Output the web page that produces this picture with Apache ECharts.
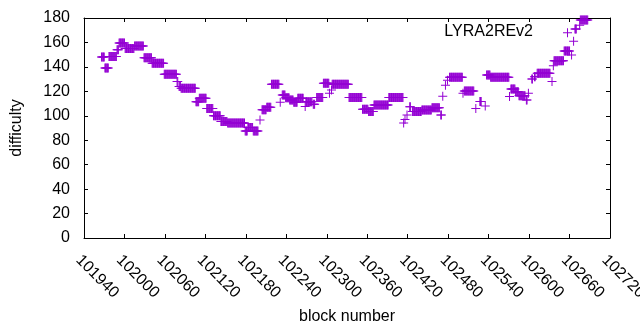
<!DOCTYPE html>
<html>
<head>
<meta charset="utf-8">
<script src="https://cdn.jsdelivr.net/npm/echarts@6/dist/echarts.min.js"></script>
<style>
    html, body { margin: 0; padding: 0; background: #fff; }
    #chart { width: 640px; height: 330px; }
</style>
</head>
<body>
<div id="chart"></div>
<script>
    // difficulty stays the same over runs of blocks: first block, last block, value
    var runStart = [101966, 101971, 101977, 101989, 101992, 102001, 102015, 102029, 102041, 102059,
        102078, 102081, 102084, 102106, 102111, 102122, 102132, 102143, 102153, 102179,
        102183, 102191, 102201, 102204, 102211, 102218, 102231, 102234, 102239, 102245,
        102251, 102257, 102268, 102269, 102280, 102285, 102295, 102304, 102307, 102308,
        102333, 102353, 102362, 102370, 102392, 102414, 102416, 102419, 102423, 102427,
        102441, 102456, 102469, 102472, 102476, 102479, 102482, 102502, 102504, 102521,
        102527, 102535, 102537, 102543, 102571, 102573, 102580, 102585, 102596, 102599,
        102604, 102608, 102612, 102634, 102636, 102637, 102652, 102657, 102663, 102666,
        102668, 102675, 102676];
    var runEnd = [101970, 101976, 101988, 101991, 102000, 102014, 102028, 102040, 102058, 102077,
        102079, 102083, 102105, 102110, 102121, 102131, 102142, 102152, 102178, 102182,
        102190, 102198, 102201, 102210, 102217, 102229, 102231, 102238, 102244, 102250,
        102256, 102265, 102268, 102278, 102282, 102294, 102303, 102304, 102307, 102332,
        102352, 102361, 102369, 102391, 102413, 102414, 102416, 102419, 102424, 102440,
        102455, 102467, 102470, 102472, 102476, 102479, 102501, 102502, 102518, 102521,
        102529, 102535, 102542, 102570, 102571, 102579, 102584, 102594, 102597, 102599,
        102605, 102609, 102631, 102634, 102636, 102651, 102660, 102657, 102663, 102666,
        102670, 102675, 102687];
    var runValue = [148, 139, 148.6, 154, 159.5, 155, 157, 147.5, 143, 134,
        128, 124, 122.5, 111.5, 114.3, 106, 100, 95.3, 94, 87.5,
        90.5, 87.5, 96.5, 105, 107, 125.7, 111, 117, 114.8, 113,
        111, 114.3, 107.5, 111.5, 109.4, 115, 126.6, 118.4, 121, 125.7,
        115, 105.3, 103.4, 108.8, 115, 94, 97, 100.6, 107.4, 103.4,
        104.7, 106.6, 100.6, 116, 125, 129, 131.5, 118.4, 120.3, 106,
        111.6, 108, 133.4, 131.5, 115.8, 122, 119.7, 116.4, 113, 118.4,
        130, 132, 134.8, 128, 141, 145, 153, 168, 149.7, 161,
        171, 174, 178.4];

    var seriesName = 'LYRA2REv2';
    var xMin = 101940, xMax = 102720, xStep = 60;
    var yMin = 0, yMax = 180, yStep = 20;

    // one point per block
    var points = [];
    for (var i = 0; i < runStart.length; i++) {
        for (var b = runStart[i]; b <= runEnd[i]; b++) {
            points.push([b, runValue[i]]);
        }
    }

    var font = 'Liberation Sans, Arial, sans-serif';
    var plus = 'path://M0,4h9v1h-9z M4,0h1v9h-1z';
    var tick = { show: true, inside: true, length: 4, lineStyle: { color: '#000' } };
    var line = { show: true, onZero: false, lineStyle: { color: '#000', width: 1 } };

    var chart = echarts.init(document.getElementById('chart'));
    chart.setOption({
        animation: false,
        backgroundColor: '#fff',
        grid: { left: 84, right: 30, top: 18, bottom: 92, outerBoundsMode: 'none', containLabel: false },
        legend: {
            data: [seriesName],
            right: 107,
            top: 24,
            padding: 0,
            icon: 'rect',
            itemWidth: 0,
            itemHeight: 0,
            textStyle: { fontFamily: font, fontSize: 16, color: '#000' }
        },
        xAxis: [
            {
                type: 'value',
                min: xMin, max: xMax, interval: xStep,
                name: 'block number',
                nameLocation: 'middle',
                nameGap: 71,
                nameTextStyle: { fontFamily: font, fontSize: 16, color: '#000' },
                axisLine: line,
                axisTick: tick,
                splitLine: { show: false },
                axisLabel: {
                    rotate: -45,
                    margin: 14,
                    align: 'left',
                    verticalAlign: 'top',
                    formatter: function (v) { return String(v); },
                    fontFamily: font, fontSize: 16, color: '#000'
                }
            },
            {
                type: 'value', position: 'top',
                min: xMin, max: xMax, interval: xStep,
                axisLine: line, axisTick: tick,
                splitLine: { show: false }, axisLabel: { show: false }
            }
        ],
        yAxis: [
            {
                type: 'value',
                min: yMin, max: yMax, interval: yStep,
                name: 'difficulty',
                nameLocation: 'middle',
                nameGap: 59,
                nameTextStyle: { fontFamily: font, fontSize: 16, color: '#000' },
                axisLine: line,
                axisTick: tick,
                splitLine: { show: false },
                axisLabel: { margin: 14, fontFamily: font, fontSize: 16, color: '#000' }
            },
            {
                type: 'value', position: 'right',
                min: yMin, max: yMax, interval: yStep,
                axisLine: line, axisTick: tick,
                splitLine: { show: false }, axisLabel: { show: false }
            }
        ],
        series: [
            {
                name: seriesName,
                type: 'scatter',
                data: points,
                symbol: plus,
                symbolSize: 9,
                itemStyle: { color: '#9400d3', opacity: 1 },
                emphasis: { disabled: true }
            }
        ]
    });
</script>
</body>
</html>
